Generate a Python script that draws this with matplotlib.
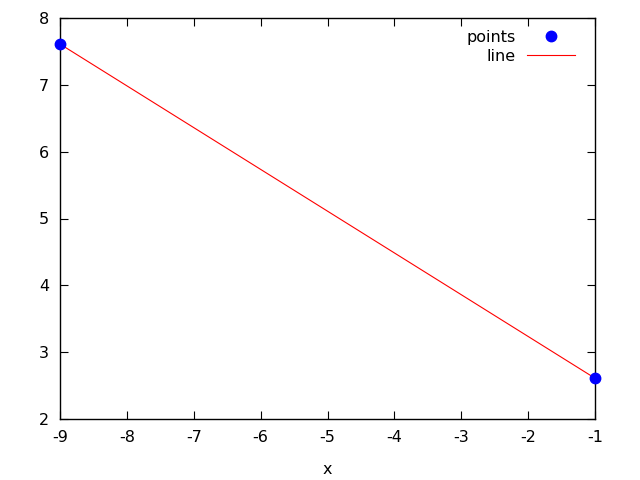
import matplotlib
matplotlib.use("Agg")
import matplotlib.pyplot as plt

# data
x_pts = [-9, -1]
y_pts = [7.61, 2.61]

x_line = [-9, -1]
y_line = [7.61, 2.61]

plt.rcParams["font.family"] = ["DejaVu Sans"]
plt.rcParams["font.size"] = 11.5
plt.rcParams["axes.unicode_minus"] = False

fig = plt.figure(figsize=(6.4, 4.8), dpi=100)
ax = fig.add_axes([60 / 640, 61 / 480, 535 / 640, 401 / 480])

ax.plot(x_line, y_line, color="red", lw=0.8, label="line", zorder=2)
ax.plot(x_pts, y_pts, "o", color="blue", ms=7.5, label="points", zorder=3, clip_on=False)

ax.set_xlim(-9, -1)
ax.set_ylim(2, 8)
ax.set_xticks(range(-9, 0))
ax.set_yticks(range(2, 9))
ax.tick_params(direction="in", top=True, right=True, length=6, width=0.8, pad=8)
for s in ax.spines.values():
    s.set_linewidth(1.0)
ax.set_xlabel("x", labelpad=12)

h, l = ax.get_legend_handles_labels()
ax.legend(h[::-1], l[::-1], loc="upper right", bbox_to_anchor=(0.974, 0.986),
          frameon=False, markerfirst=False, handlelength=3.0,
          handletextpad=0.7, labelspacing=0.22, borderaxespad=0.0)

fig.savefig("out.png", dpi=100)
